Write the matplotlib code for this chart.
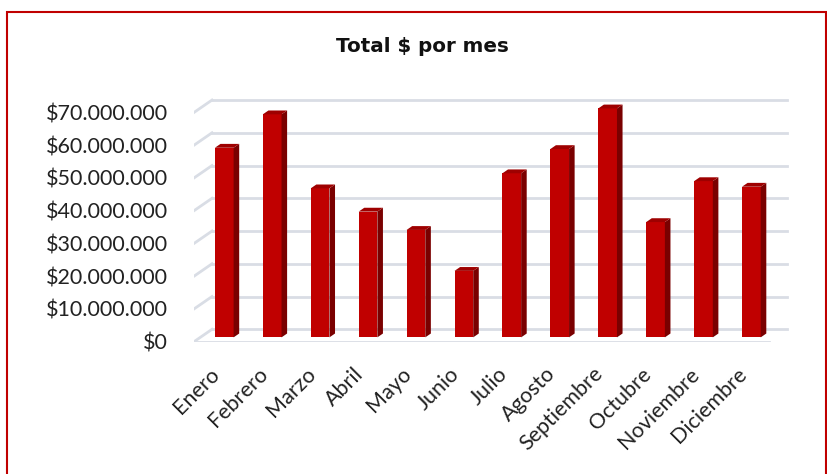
import matplotlib
matplotlib.use('Agg')
import matplotlib.pyplot as plt
from matplotlib.patches import Polygon, Rectangle

# datos
meses = ['Enero', 'Febrero', 'Marzo', 'Abril', 'Mayo', 'Junio', 'Julio',
         'Agosto', 'Septiembre', 'Octubre', 'Noviembre', 'Diciembre']
totales = [57.9, 68.1, 45.5, 38.4, 32.8, 20.3, 50.1, 57.5, 69.9, 35.2, 47.7, 46.0]  # millones
ticks_y = [0, 10, 20, 30, 40, 50, 60, 70]
etiquetas_y = ['$0', '$10.000.000', '$20.000.000', '$30.000.000', '$40.000.000',
               '$50.000.000', '$60.000.000', '$70.000.000']

plt.rcParams['font.family'] = ['Lato', 'DejaVu Sans']

W, H = 828, 474
fig = plt.figure(figsize=(W / 100, H / 100), dpi=100)

# escala en pixeles
px_cat = 47.92      # pixeles por categoria
px_val = 3.275      # pixeles por millon
x0_px, y0_px = 194, H - 341.7
prof_dx = 18 / px_cat      # profundidad total del piso (en unidades de datos)
prof_dy = 12.4 / px_val
z0, z1 = 0.35, 0.66        # posicion de la barra dentro de la profundidad
ancho = 0.39

xmax, ymax = 12.5, 80
ax = fig.add_axes([x0_px / W, y0_px / H, xmax * px_cat / W, ymax * px_val / H])
ax.set_xlim(0, xmax)
ax.set_ylim(0, ymax)
for s in ax.spines.values():
    s.set_visible(False)

# cuadricula: pared del fondo y pared lateral
color_grid = '#D9DDE5'
for v in ticks_y:
    ax.plot([prof_dx, 12 + prof_dx], [v + prof_dy, v + prof_dy], color=color_grid, lw=2, zorder=1)
    ax.plot([0, prof_dx], [v, v + prof_dy], color=color_grid, lw=2, zorder=1)
ax.plot([0, 12], [0, 0], color=color_grid, lw=2, zorder=1)

# barras 3D
for i, v in enumerate(totales):
    xl = i + 0.5 - ancho / 2 + z0 * prof_dx
    xr = xl + ancho
    yb = z0 * prof_dy
    dx = (z1 - z0) * prof_dx
    dy = (z1 - z0) * prof_dy
    frente = Polygon([(xl, yb), (xr, yb), (xr, yb + v), (xl, yb + v)], closed=True,
                     facecolor='#C00000', edgecolor='none', zorder=3)
    lado = Polygon([(xr, yb), (xr + dx, yb + dy), (xr + dx, yb + v + dy), (xr, yb + v)], closed=True,
                   facecolor='#7A0000', edgecolor='none', zorder=3)
    techo = Polygon([(xl, yb + v), (xr, yb + v), (xr + dx, yb + v + dy), (xl + dx, yb + v + dy)], closed=True,
                    facecolor='#9E0000', edgecolor='none', zorder=3)
    ax.add_patch(frente)
    ax.add_patch(lado)
    ax.add_patch(techo)

ax.set_yticks(ticks_y)
ax.set_yticklabels(etiquetas_y, fontsize=15.5, color='#222222')
ax.set_xticks([i + 0.47 for i in range(12)])
ax.set_xticklabels(meses, fontsize=15.5, color='#222222', rotation=45, ha='right',
                   rotation_mode='anchor', va='center')
ax.tick_params(axis='y', length=0, pad=19)
ax.tick_params(axis='x', length=0, pad=21)

fig.text(422 / W, 1 - 51.7 / H, 'Total $ por mes', ha='center', va='baseline',
         fontsize=14.3, fontweight='bold', color='#111111', family='DejaVu Sans')

# borde del grafico
fig.patches.append(Rectangle((7 / W, -0.1), (826 - 7) / W, (H - 11.7) / H + 0.1,
                             transform=fig.transFigure, fill=False, edgecolor='#C00000', lw=1.5))

fig.savefig('out.png', dpi=100)
